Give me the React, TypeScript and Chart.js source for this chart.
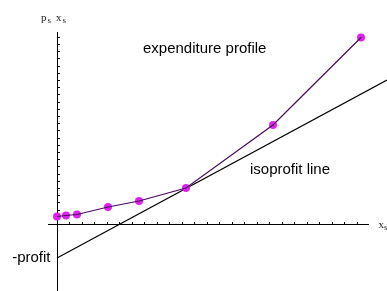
import React, { useEffect, useRef } from "react";
import { Chart, registerables } from "chart.js";

Chart.register(...registerables);

// expenditure profile points (x in output units, y in p_s x_s units)
const profileX = [0, 0.9, 2.0, 5.1, 8.2, 12.9, 21.6, 30.4];
const profileY = [0.8, 0.9, 1.0, 1.75, 2.35, 3.65, 9.95, 18.7];

// isoprofit line end points
const isoX = [0, 33];
const isoY = [-3.35, 14.45];

const xMin = -0.9;
const xMax = 31.1;
const yMin = -6.65;
const yMax = 19.25;

const xTickStep = 1.25;
const yTickStep = 0.72;

const labelTexts = {
  profile: "expenditure profile",
  iso: "isoprofit line",
  profit: "-profit",
};

const labelPlugin = {
  id: "labels",
  afterDraw(chart: any) {
    const ctx = chart.ctx;
    const xs = chart.scales.x;
    const ys = chart.scales.y;
    ctx.save();
    ctx.fillStyle = "#000";
    ctx.font = '15px "Liberation Sans", Arial, sans-serif';
    ctx.textBaseline = "middle";
    ctx.textAlign = "left";
    ctx.fillText(labelTexts.profile, xs.getPixelForValue(8.6), ys.getPixelForValue(17.55));
    ctx.fillText(labelTexts.iso, xs.getPixelForValue(19.3), ys.getPixelForValue(5.45));
    ctx.textAlign = "right";
    ctx.fillText(labelTexts.profit, xs.getPixelForValue(-0.65), ys.getPixelForValue(-3.35));

    // axis labels in serif with subscripts
    ctx.textAlign = "left";
    ctx.textBaseline = "alphabetic";
    ctx.fillStyle = "#222";
    const big = '11px "Liberation Serif", "Times New Roman", serif';
    const small = '9px "Liberation Serif", "Times New Roman", serif';
    const yAxisPx = xs.getPixelForValue(0);
    const topPx = ys.getPixelForValue(yMax);
    // p_s x_s above y axis
    const bx = yAxisPx - 16;
    const by = topPx - 11.5;
    ctx.font = big;
    ctx.fillText("p", bx, by);
    ctx.font = small;
    ctx.fillText("s", bx + 6.5, by + 2);
    ctx.font = big;
    ctx.fillText("x", bx + 15, by);
    ctx.font = small;
    ctx.fillText("s", bx + 21.5, by + 2);
    // x_s at the right end of x axis
    const xx = xs.getPixelForValue(xMax) + 10.5;
    const xy = ys.getPixelForValue(0) + 3;
    ctx.font = big;
    ctx.fillText("x", xx, xy);
    ctx.font = small;
    ctx.fillText("s", xx + 5.5, xy + 2);
    ctx.restore();
  },
};

export default function App() {
  const ref = useRef<HTMLCanvasElement | null>(null);
  useEffect(() => {
    if (!ref.current) return;
    const chart = new Chart(ref.current, {
      type: "scatter",
      data: {
        datasets: [
          {
            label: "profile line",
            data: profileX.map((x, i) => ({ x, y: profileY[i] })),
            showLine: true,
            borderColor: "#4a0a5c",
            borderWidth: 1.2,
            pointRadius: 0,
            clip: false as any,
          },
          {
            label: "profile points",
            data: profileX.map((x, i) => ({ x, y: profileY[i] })),
            showLine: false,
            pointRadius: 4,
            pointBackgroundColor: "#dd22f0",
            pointBorderWidth: 0,
            pointBorderColor: "#dd22f0",
            clip: false as any,
          },
          {
            label: "isoprofit",
            data: isoX.map((x, i) => ({ x, y: isoY[i] })),
            showLine: true,
            borderColor: "#000",
            borderWidth: 1.2,
            pointRadius: 0,
            clip: false as any,
          },
        ],
      },
      options: {
        responsive: false,
        animation: false,
        layout: { autoPadding: false, padding: { left: 48, right: 19, top: 32, bottom: 0 } },
        plugins: { legend: { display: false }, tooltip: { enabled: false } },
        scales: {
          x: {
            type: "linear",
            min: xMin,
            max: xMax,
            position: { y: 0 } as any,
            ticks: { display: false },
            grid: { drawOnChartArea: false, drawTicks: true, tickLength: -3, color: "#000", lineWidth: 1 },
            border: { display: true, color: "#000", width: 1 },
            afterBuildTicks: (scale: any) => {
              const t = [];
              for (let v = xTickStep; v <= xMax; v += xTickStep) t.push({ value: v });
              scale.ticks = t;
            },
          },
          y: {
            type: "linear",
            min: yMin,
            max: yMax,
            position: { x: 0 } as any,
            ticks: { display: false },
            grid: { drawOnChartArea: false, drawTicks: true, tickLength: -3, color: "#000", lineWidth: 1 },
            border: { display: true, color: "#000", width: 1 },
            afterBuildTicks: (scale: any) => {
              const t = [];
              for (let v = yTickStep; v <= yMax; v += yTickStep) t.push({ value: v });
              scale.ticks = t;
            },
          },
        },
      },
      plugins: [labelPlugin],
    });
    return () => chart.destroy();
  }, []);
  return (
    <div style={{ position: "absolute", left: 0, top: 0, width: 387, height: 291, background: "#fff" }}>
      <canvas ref={ref} width={387} height={291} />
    </div>
  );
}
